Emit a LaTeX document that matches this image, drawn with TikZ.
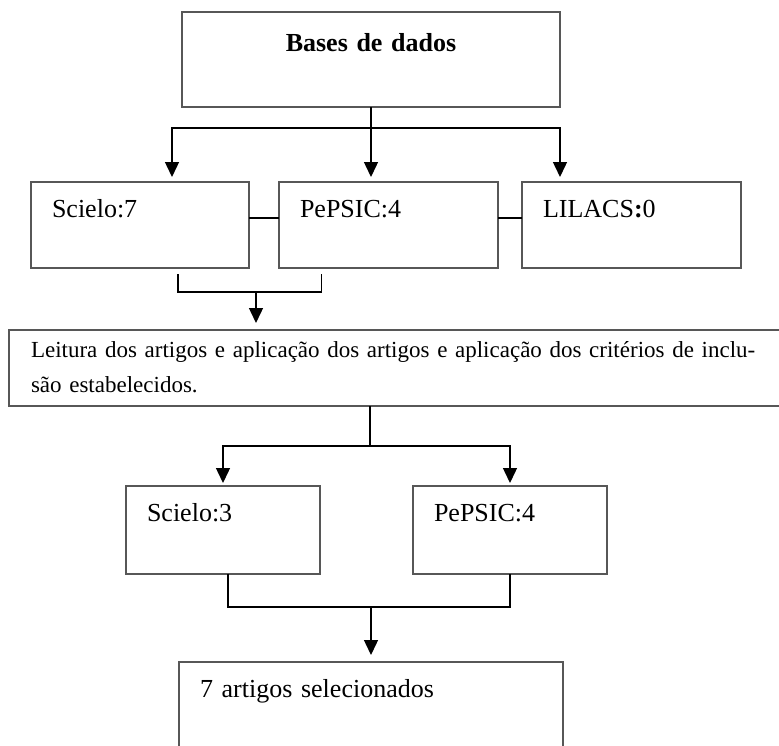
\documentclass[tikz,border=0pt]{standalone}
\usepackage{fontspec}
\setmainfont{Liberation Serif}
\usetikzlibrary{arrows.meta,positioning}

\definecolor{boxline}{HTML}{575757}

\tikzset{
	dbbox/.style={draw=boxline, line width=2.5pt, inner ysep=0pt, inner xsep=21pt,
		outer sep=0pt, anchor=north west, align=left, text height=35pt, text depth=51pt,
		font=\fontsize{26}{31}\selectfont},
	link/.style={draw=black, line width=1.4pt},
	arrow/.style={link, -{Triangle[width=14pt,length=15pt]}},
}

\begin{document}
\begin{tikzpicture}[x=1pt,y=-1pt]
	\useasboundingbox (0,0) rectangle (779,745);
	% Draw the boxes
	\node[dbbox, align=center, inner xsep=0pt, text width=378pt, text height=39pt, text depth=56pt,
		font=\bfseries\fontsize{26}{31}\selectfont] (bases) at (182,12) {Bases de dados};
	\node[dbbox, text width=176pt]                         (scielo7) at (31,182) {Scielo:7};
	\node[dbbox, text width=177pt, right=30pt of scielo7]  (pepsic7) {PePSIC:4};
	\node[dbbox, text width=177pt, right=24pt of pepsic7]  (lilacs)  {LILACS\textbf{:}0};
	\node[dbbox, inner xsep=22pt, text width=780pt, text height=27pt, text depth=49pt,
		font=\fontsize{23}{35}\selectfont] (reading) at (9,330)
		{\makebox[731pt][s]{Leitura dos artigos e aplicação dos artigos e aplicação dos critérios de inclu-}\\
		 são estabelecidos.};
	\node[dbbox, text width=152pt, text depth=53pt]                        (scielo3) at (126,486) {Scielo:3};
	\node[dbbox, text width=152pt, text depth=53pt, right=93pt of scielo3] (pepsic4) {PePSIC:4};
	\node[dbbox, text width=342pt, text depth=70pt]                        (final) at (179,662) {7 artigos selecionados};
	% Connect the boxes with arrows
	\coordinate (fork1)  at (370,128);
	\coordinate (merge1) at (256,292);
	\coordinate (fork2)  at (370,446);
	\coordinate (merge2) at (371,607);
	\draw[arrow, shorten >=5pt] (bases.south) -- (bases.south |- pepsic7.north);
	\draw[arrow, shorten >=5pt] (fork1) -| ([xshift=32pt]scielo7.north);
	\draw[arrow, shorten >=5pt] (fork1) -| (bases.south east |- lilacs.north);
	\draw[link] ([yshift=7pt]scielo7.east) -- ([yshift=7pt]pepsic7.west);
	\draw[link] ([yshift=7pt]pepsic7.east) -- ([yshift=7pt]lilacs.west);
	\draw[link] ([xshift=38pt,yshift=-6pt]scielo7.south) |- (merge1) -| ([xshift=-67pt,yshift=-6pt]pepsic7.south);
	\draw[arrow, shorten >=7pt] (merge1) -- (merge1 |- reading.north);
	\draw[link] (reading.south -| fork2) -- (fork2);
	\draw[arrow, shorten >=3pt] (fork2) -| (scielo3.north);
	\draw[arrow, shorten >=3pt] (fork2) -| (pepsic4.north);
	\draw[link] ([xshift=5pt]scielo3.south) |- (merge2) -| (pepsic4.south);
	\draw[arrow, shorten >=7pt] (merge2) -- (final.north);
\end{tikzpicture}
\end{document}
